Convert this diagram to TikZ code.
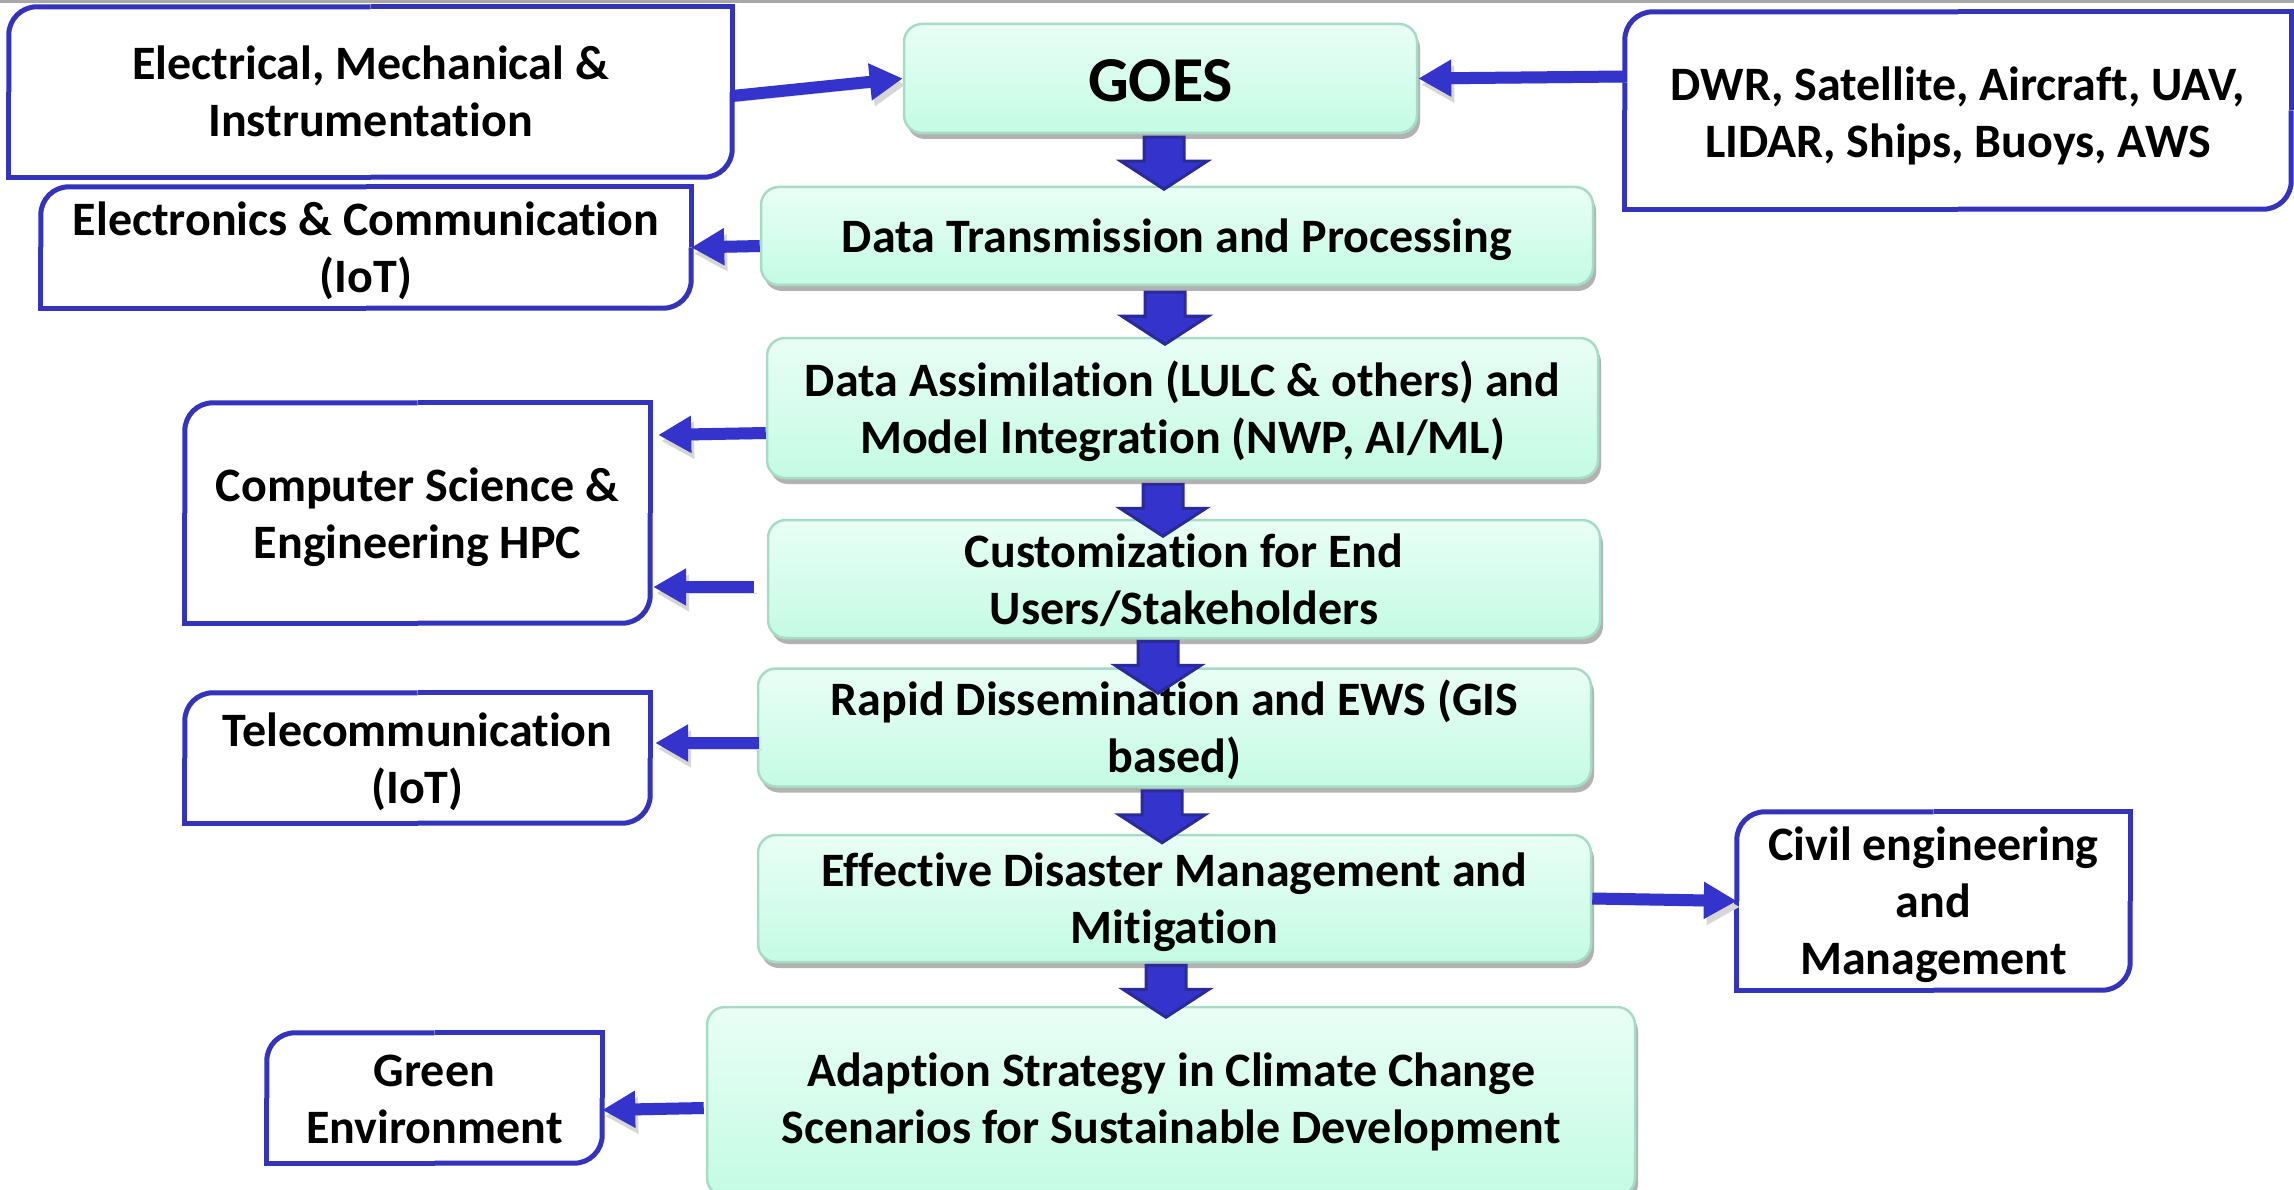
\documentclass[tikz,border=0pt]{standalone}
\usepackage{fontspec}
\setmainfont{Carlito}[Ligatures=NoCommon]
\usetikzlibrary{arrows.meta,shadows,calc}
\definecolor{gtop}{HTML}{E9FEF6}
\definecolor{gbot}{HTML}{C4FBE4}
\definecolor{gborder}{HTML}{A6DCC6}
\definecolor{wblue}{HTML}{3333BB}
\definecolor{ablue}{HTML}{3434CC}
\definecolor{adark}{HTML}{2A2A99}
\definecolor{topgray}{HTML}{A8A8A8}
\newcommand\boxfont{\fontsize{48}{57}\selectfont\bfseries}
\newcommand\goesfont{\fontsize{64}{72}\selectfont\bfseries}
\tikzset{
  one/.style={text height=47pt, text depth=14pt},
  two/.style={text height=104pt, text depth=14pt},
  three/.style={text height=161pt, text depth=14pt},
  gbox/.style={draw=gborder, line width=2.5pt, rounded corners=18pt,
    top color=gtop, bottom color=gbot, inner sep=0pt, align=center,
    font=\boxfont,
    drop shadow={shadow xshift=3pt, shadow yshift=-6pt, fill=black, opacity=0.3}},
  wbox/.style={inner sep=0pt, align=center, font=\boxfont},
  wline/.style={draw=wblue, line width=5pt},
  side/.style={draw=ablue, line width=12pt, -{Triangle[length=33pt,width=35pt]},
    preaction={draw=black!16, transform canvas={xshift=3pt,yshift=-6pt}}},
  blockar/.style={fill=ablue, draw=adark, line width=3pt, line join=miter},
}
\newcommand\wframe[1]{%
  \draw[wline,rounded corners=28pt] (#1.north) -- (#1.north west) -- (#1.west);
  \draw[wline] (#1.west) -- (#1.south west) -- (#1.south);
  \draw[wline,rounded corners=28pt] (#1.south) -- (#1.south east) -- (#1.east);
  \draw[wline] (#1.east) -- (#1.north east) -- (#1.north);}
\newcommand\dnarrow[3]{%
  \draw[blockar] ($(#1.south)+(#2-20,#3)$) -- ++(40,0) -- ++(0,24) -- ++(23,0)
    -- ++(-43,28) -- ++(-43,-28) -- ++(23,0) -- cycle;}
\begin{document}
\begin{tikzpicture}[x=1pt,y=-1pt]
\useasboundingbox (0,0) rectangle (2294,1190);
\clip (0,0) rectangle (2294,1190);
\fill[topgray] (0,0) rectangle (2294,3);

% central flow
\node[gbox, minimum width=513pt, minimum height=109pt, font=\goesfont,
  text height=58pt, text depth=12pt] (goes) at (1160.5,78.5) {GOES};
\node[gbox, one, minimum width=832pt, minimum height=98pt] (dt) at (1177,236) {Data Transmission and Processing};
\node[gbox, two, minimum width=831pt, minimum height=140pt] (da) at (1182.5,408) {Data Assimilation (LULC \& others) and\\Model Integration (NWP, AI/ML)};
\node[gbox, two, minimum width=832pt, minimum height=98pt] (cu) at (1184,579) {Customization for End\\Users/Stakeholders};
\node[gbox, two, minimum width=833pt, minimum height=99pt] (ra) at (1174.5,727.5) {Rapid Dissemination and EWS (GIS\\based)};
\node[gbox, two, minimum width=833pt, minimum height=127pt] (ef) at (1174.5,898.5) {Effective Disaster Management and\\Mitigation};
\node[gbox, two, text depth=21pt, minimum width=928pt, minimum height=189pt] (ad) at (1171,1101.5) {Adaption Strategy in Climate Change\\Scenarios for Sustainable Development};

% discipline boxes
\node[wbox, two, minimum width=723pt, minimum height=170pt] (em) at (370.5,92) {Electrical, Mechanical \&\\Instrumentation};
\node[wbox, two, minimum width=650pt, minimum height=121pt] (ec) at (366,247.5) {Electronics \& Communication\\(IoT)};
\node[wbox, two, text height=108pt, minimum width=666pt, minimum height=197pt] (dwr) at (1958,110.5) {DWR, Satellite, Aircraft, UAV,\\LIDAR, Ships, Buoys, AWS};
\node[wbox, two, minimum width=465pt, minimum height=220pt] (cs) at (417.5,513) {Computer Science \&\\Engineering HPC};
\node[wbox, two, minimum width=465pt, minimum height=130pt] (tc) at (417.5,758) {Telecommunication\\(IoT)};
\node[wbox, three, minimum width=393pt, minimum height=178pt] (cv) at (1933.5,901) {Civil engineering\\and\\Management};
\node[wbox, two, minimum width=335pt, minimum height=130pt] (gr) at (434.5,1098) {Green\\Environment};
\wframe{em}\wframe{ec}\wframe{dwr}\wframe{cs}\wframe{tc}\wframe{cv}\wframe{gr}

% side connectors
\draw[side] ($(em.east)+(0,4)$) -- (goes.west);
\draw[side] ($(dwr.west)+(0,-34)$) -- (goes.east);
\draw[side] ($(dt.west)+(0,10)$) -- (ec.east);
\draw[side] ($(da.west)+(0,25)$) -- ($(cs.east)+(8,-78)$);
\draw[side] ($(cu.west)+(-13,8)$) -- ($(cs.east)+(3,74)$);
\draw[side] ($(ra.west)+(2,15.5)$) -- ($(tc.east)+(5,-15)$);
\draw[side] (ef.east) -- (cv.west);
\draw[side] ($(ad.west)+(-2,6.5)$) -- ($(gr.east)+(0,12)$);

% flow arrows
\dnarrow{goes}{3.5}{3}
\dnarrow{dt}{-12}{6}
\dnarrow{da}{-19.5}{5}
\dnarrow{cu}{-26}{2}
\dnarrow{ra}{-12.5}{3}
\dnarrow{ef}{-8.5}{2}
\end{tikzpicture}
\end{document}
